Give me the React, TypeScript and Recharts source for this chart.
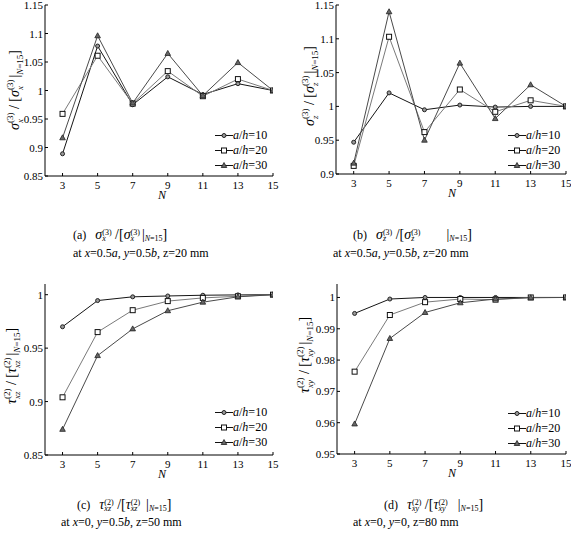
import React from 'react';
import { LineChart, Line, XAxis, YAxis, Legend } from 'recharts';

const FONT = '"Liberation Serif", "Times New Roman", serif';

const N_VALUES = [3, 5, 7, 9, 11, 13, 15];
const N_TICKS = [3, 5, 7, 9, 11, 13, 15];
const AH_LABELS = ['10', '20', '30'];

// (a) sigma_x at x=0.5a, y=0.5b, z=20 mm
const SX_AH10 = [0.889, 1.078, 0.975, 1.024, 0.993, 1.012, 1.0];
const SX_AH20 = [0.959, 1.061, 0.977, 1.034, 0.99, 1.02, 1.0];
const SX_AH30 = [0.917, 1.096, 0.978, 1.065, 0.991, 1.049, 1.0];
const SX_TICKS = [0.85, 0.9, 0.95, 1, 1.05, 1.1, 1.15];

// (b) sigma_z at x=0.5a, y=0.5b, z=20 mm
const SZ_AH10 = [0.947, 1.02, 0.995, 1.002, 0.999, 1.0, 1.0];
const SZ_AH20 = [0.912, 1.103, 0.962, 1.025, 0.992, 1.009, 1.0];
const SZ_AH30 = [0.916, 1.14, 0.95, 1.064, 0.982, 1.032, 1.0];
const SZ_TICKS = [0.9, 0.95, 1, 1.05, 1.1, 1.15];

// (c) tau_xz at x=0, y=0.5b, z=50 mm
const TXZ_AH10 = [0.97, 0.9945, 0.998, 0.9988, 0.9995, 0.9998, 1.0];
const TXZ_AH20 = [0.904, 0.965, 0.9855, 0.994, 0.997, 0.9985, 1.0];
const TXZ_AH30 = [0.874, 0.943, 0.968, 0.985, 0.993, 0.998, 1.0];
const TXZ_TICKS = [0.85, 0.9, 0.95, 1];

// (d) tau_xy at x=0, y=0, z=80 mm
const TXY_AH10 = [0.9949, 0.9995, 1.0, 1.0, 1.0, 1.0, 1.0];
const TXY_AH20 = [0.9763, 0.9944, 0.9985, 0.9995, 0.9993, 1.0, 1.0];
const TXY_AH30 = [0.9596, 0.9869, 0.9952, 0.9983, 0.9995, 0.9999, 1.0];
const TXY_TICKS = [0.95, 0.96, 0.97, 0.98, 0.99, 1];

type Row = { n: number; ah10: number; ah20: number; ah30: number };

const toRows = (a: number[], b: number[], c: number[]): Row[] =>
  N_VALUES.map((n, i) => ({ n, ah10: a[i], ah20: b[i], ah30: c[i] }));

const SERIES = [
  { key: 'ah10', label: AH_LABELS[0], color: '#151515', shape: 'circle' },
  { key: 'ah20', label: AH_LABELS[1], color: '#7a7a7a', shape: 'square' },
  { key: 'ah30', label: AH_LABELS[2], color: '#4a4a4a', shape: 'triangle' },
];

function Marker({ cx, cy, shape }: { cx: number; cy: number; shape: string }) {
  if (cx == null || cy == null) return null;
  if (shape === 'square') {
    return <rect x={cx - 2.5} y={cy - 2.5} width={5} height={5} fill="#fff" stroke="#111" strokeWidth={1} />;
  }
  if (shape === 'triangle') {
    return (
      <polygon
        points={`${cx},${cy - 3} ${cx - 2.8},${cy + 2} ${cx + 2.8},${cy + 2}`}
        fill="#666"
        stroke="#222"
        strokeWidth={0.8}
      />
    );
  }
  return <circle cx={cx} cy={cy} r={2} fill="#999" stroke="#222" strokeWidth={1} />;
}

// ticks point inward on every side of the box
function BottomTick(props: any) {
  const { x, y, payload } = props;
  return (
    <g>
      <line x1={x} y1={y} x2={x} y2={y - 3} stroke="#000" />
      <text x={x} y={y + 13} textAnchor="middle" fontSize={11} fontFamily={FONT} fill="#000">
        {payload.value}
      </text>
    </g>
  );
}

function TopTick(props: any) {
  const { x, y } = props;
  return <line x1={x} y1={y} x2={x} y2={y + 3} stroke="#000" />;
}

function LeftTick(props: any) {
  const { x, y, payload } = props;
  return (
    <g>
      <line x1={x} y1={y} x2={x + 3} y2={y} stroke="#000" />
      <text x={x - 2} y={y + 4} textAnchor="end" fontSize={11} fontFamily={FONT} fill="#000">
        {String(payload.value)}
      </text>
    </g>
  );
}

function RightTick(props: any) {
  const { x, y } = props;
  return <line x1={x} y1={y} x2={x - 3} y2={y} stroke="#000" />;
}

function LegendBox() {
  return (
    <div style={{ fontFamily: FONT, fontSize: 12, color: '#000' }}>
      {SERIES.map((s) => (
        <div key={s.key} style={{ display: 'flex', alignItems: 'center', height: 15 }}>
          <svg width={18} height={15}>
            <line x1={0} y1={7.5} x2={18} y2={7.5} stroke="#111" strokeWidth={1} />
            <Marker cx={9} cy={7.5} shape={s.shape} />
          </svg>
          <span>
            <i>a</i>/<i>h</i>={s.label}
          </span>
        </div>
      ))}
    </div>
  );
}

type PanelProps = {
  left: number;
  top: number;
  width: number;
  height: number;
  marginRight: number;
  data: Row[];
  yDomain: [number, number];
  yTicks: number[];
  legendLeft: number;
  legendTop: number;
};

function Panel({ left, top, width, height, marginRight, data, yDomain, yTicks, legendLeft, legendTop }: PanelProps) {
  return (
    <div style={{ position: 'absolute', left, top, width, height }}>
      <LineChart width={width} height={height} data={data} margin={{ top: 5, right: marginRight, bottom: 0, left: 0 }}>
        <XAxis
          dataKey="n"
          type="number"
          domain={[2, 15]}
          ticks={N_TICKS}
          allowDataOverflow
          height={24}
          tickSize={0}
          tickMargin={0}
          axisLine={{ stroke: '#000' }}
          tick={<BottomTick />}
          interval={0}
        />
        <XAxis
          xAxisId="t"
          orientation="top"
          dataKey="n"
          type="number"
          domain={[2, 15]}
          ticks={N_TICKS}
          allowDataOverflow
          height={0}
          tickSize={0}
          tickMargin={0}
          axisLine={{ stroke: '#000' }}
          tick={<TopTick />}
          interval={0}
        />
        <YAxis
          type="number"
          domain={yDomain}
          ticks={yTicks}
          allowDataOverflow
          width={45}
          tickSize={0}
          tickMargin={0}
          axisLine={{ stroke: '#000' }}
          tick={<LeftTick />}
          interval={0}
        />
        <YAxis
          yAxisId="r"
          orientation="right"
          type="number"
          domain={yDomain}
          ticks={yTicks}
          allowDataOverflow
          width={0}
          tickSize={0}
          tickMargin={0}
          axisLine={{ stroke: '#000' }}
          tick={<RightTick />}
          interval={0}
        />
        <Legend
          layout="horizontal"
          verticalAlign="middle"
          align="center"
          wrapperStyle={{ left: legendLeft, top: legendTop, width: 'auto' }}
          content={() => <LegendBox />}
        />
        {SERIES.map((s) => (
          <Line
            key={s.key}
            type="linear"
            dataKey={s.key}
            stroke={s.color}
            strokeWidth={1}
            isAnimationActive={false}
            activeDot={false}
            dot={(p: any) => <Marker key={`${s.key}-${p.index}`} cx={p.cx} cy={p.cy} shape={s.shape} />}
          />
        ))}
      </LineChart>
    </div>
  );
}

const GLYPH_W: Record<string, number> = { '(': 0.333, ')': 0.333, '2': 0.5, '3': 0.5, x: 0.444, y: 0.444, z: 0.389 };
const textW = (s: string, fs: number) => s.split('').reduce((a, ch) => a + (GLYPH_W[ch] ?? 0.5), 0) * fs;

type SymProps = {
  base: string; sub: string; sup: string; fs: number; sm: number; up: number; down: number;
  after: string; lead?: number; afterGap?: number;
};

// symbol with stacked sub/superscript, followed by some plain text
function Sym({ base, sub, sup, fs, sm, up, down, after, lead = 0, afterGap = 0 }: SymProps) {
  const supW = textW(sup, sm);
  const subW = textW(sub, sm);
  return (
    <>
      <tspan fontStyle="italic" fontSize={fs} dx={lead}>{base}</tspan>
      <tspan fontSize={sm} dy={-up}>{sup}</tspan>
      <tspan fontSize={sm} fontStyle="italic" dx={-supW} dy={up + down}>{sub}</tspan>
      <tspan fontSize={fs} dx={Math.max(0, supW - subW) + afterGap} dy={-down}>{after}</tspan>
    </>
  );
}

type RatioProps = { base: string; sub: string; sup: string; fs: number; sm: number; up: number; down: number; sep: string; lead?: number; gap?: number };

function Ratio({ base, sub, sup, fs, sm, up, down, sep, lead, gap = 0 }: RatioProps) {
  return (
    <>
      <Sym base={base} sub={sub} sup={sup} fs={fs} sm={sm} up={up} down={down} after={sep} lead={lead} />
      <Sym base={base} sub={sub} sup={sup} fs={fs} sm={sm} up={up} down={down} after="|" afterGap={gap + 2} />
      <tspan fontSize={sm} dy={down} fontStyle="italic">N</tspan>
      <tspan fontSize={sm}>=15</tspan>
      <tspan fontSize={fs} dy={-down}>]</tspan>
    </>
  );
}

function YLabel({ x, y, base, sub, sup }: { x: number; y: number; base: string; sub: string; sup: string }) {
  return (
    <text x={x} y={y} transform={`rotate(-90 ${x} ${y})`} textAnchor="middle" fontFamily={FONT} fontSize={13} fill="#000">
      <Ratio base={base} sub={sub} sup={sup} fs={14} sm={9} up={6} down={4} sep=" / [" />
    </text>
  );
}

function Caption({ x, y, tag, base, sub, sup, gap }: { x: number; y: number; tag: string; base: string; sub: string; sup: string; gap?: number }) {
  return (
    <text x={x} y={y} fontFamily={FONT} fontSize={12} fill="#000">
      <tspan>{tag}</tspan>
      <Ratio base={base} sub={sub} sup={sup} fs={14} sm={8} up={4} down={2} sep=" /[" lead={9} gap={gap} />
    </text>
  );
}

function Where({ x, y, children }: { x: number; y: number; children: React.ReactNode }) {
  return (
    <text x={x} y={y} fontFamily={FONT} fontSize={12} fill="#000">
      {children}
    </text>
  );
}

function NLabel({ x, y }: { x: number; y: number }) {
  return (
    <text x={x} y={y} textAnchor="middle" fontFamily={FONT} fontSize={12} fontStyle="italic" fill="#000">
      N
    </text>
  );
}

export default function App() {
  return (
    <div style={{ position: 'absolute', left: 0, top: 0, width: 571, height: 551, background: '#fff' }}>
      <Panel left={0} top={0} width={285} height={200} marginRight={12} data={toRows(SX_AH10, SX_AH20, SX_AH30)}
        yDomain={[0.85, 1.15]} yTicks={SX_TICKS} legendLeft={215} legendTop={128} />
      <Panel left={291} top={0} width={280} height={198} marginRight={5} data={toRows(SZ_AH10, SZ_AH20, SZ_AH30)}
        yDomain={[0.9, 1.15]} yTicks={SZ_TICKS} legendLeft={217} legendTop={128} />
      <Panel left={0} top={279} width={285} height={200} marginRight={12} data={toRows(TXZ_AH10, TXZ_AH20, TXZ_AH30)}
        yDomain={[0.85, 1.01]} yTicks={TXZ_TICKS} legendLeft={215} legendTop={126} />
      <Panel left={292} top={279} width={279} height={199} marginRight={5} data={toRows(TXY_AH10, TXY_AH20, TXY_AH30)}
        yDomain={[0.95, 1.0043]} yTicks={TXY_TICKS} legendLeft={216} legendTop={127} />

      <svg width={571} height={551} style={{ position: 'absolute', left: 0, top: 0, pointerEvents: 'none' }}>
        <YLabel x={19} y={90} base="σ" sub="x" sup="(3)" />
        <YLabel x={314} y={86} base="σ" sub="z" sup="(3)" />
        <YLabel x={16} y={366} base="τ" sub="xz" sup="(2)" />
        <YLabel x={309} y={355} base="τ" sub="xy" sup="(2)" />

        <NLabel x={162} y={199} />
        <NLabel x={452} y={197} />
        <NLabel x={162} y={478} />
        <NLabel x={452} y={477} />

        <Caption x={73} y={239} tag="(a)" base="σ" sub="x" sup="(3)" />
        <Caption x={353} y={239} tag="(b)" base="σ" sub="z" sup="(3)" gap={24} />
        <Caption x={77} y={509} tag="(c)" base="τ" sub="xz" sup="(2)" gap={4} />
        <Caption x={384} y={509} tag="(d)" base="τ" sub="xy" sup="(2)" gap={8} />

        <Where x={73} y={257}>
          at <tspan fontStyle="italic">x</tspan>=0.5<tspan fontStyle="italic">a</tspan>, <tspan fontStyle="italic">y</tspan>=0.5<tspan fontStyle="italic">b</tspan>, z=20 mm
        </Where>
        <Where x={333} y={257}>
          at <tspan fontStyle="italic">x</tspan>=0.5<tspan fontStyle="italic">a</tspan>, <tspan fontStyle="italic">y</tspan>=0.5<tspan fontStyle="italic">b</tspan>, z=20 mm
        </Where>
        <Where x={61} y={526}>
          at <tspan fontStyle="italic">x</tspan>=0, <tspan fontStyle="italic">y</tspan>=0.5<tspan fontStyle="italic">b</tspan>, z=50 mm
        </Where>
        <Where x={353} y={526}>
          at <tspan fontStyle="italic">x</tspan>=0, <tspan fontStyle="italic">y</tspan>=0, z=80 mm
        </Where>
      </svg>
    </div>
  );
}
